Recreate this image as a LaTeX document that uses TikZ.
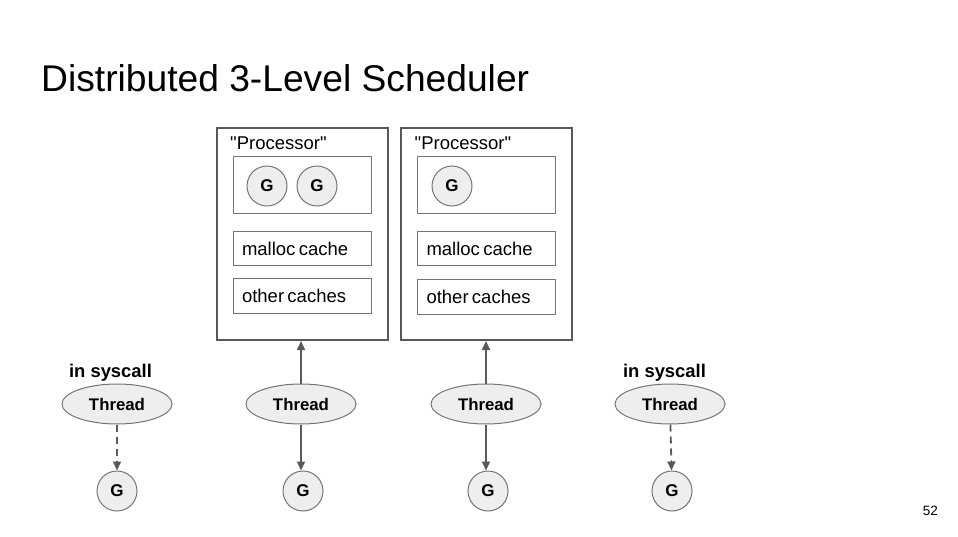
\documentclass[tikz,border=0pt]{standalone}
\usepackage{fontspec}
\setmainfont{Liberation Sans}
\usetikzlibrary{arrows.meta,shapes.geometric}
\definecolor{linegray}{HTML}{595959}
\definecolor{boxgray}{HTML}{757575}
\definecolor{fillgray}{HTML}{EEEEEE}
\newcommand{\fs}[1]{\fontsize{#1}{#1}\selectfont}
\begin{document}
\begin{tikzpicture}[x=1pt,y=-1pt,>={Triangle[width=8pt,length=9pt]}]
        \useasboundingbox (0,0) rectangle (958,537);
        \node[anchor=west,inner sep=0] (title) at (41,78) {\fs{37.2}Distributed 3-Level Scheduler};
        \node[anchor=east,inner sep=0] (page) at (938,511) {\fs{13.5}52};
        % processors
        \begin{scope}[every node/.style={draw=linegray,line width=2pt,minimum width=171pt,minimum height=212pt,inner sep=0}]
            \node (P1) at (302,234) {};
            \node (P2) at (486.5,234) {};
        \end{scope}
        \begin{scope}[every node/.style={anchor=west,inner sep=0}]
            \node (p1) at (230,143) {\fs{18.5}\textquotedbl Processor\textquotedbl};
            \node (p2) at (414.5,143) {\fs{18.5}\textquotedbl Processor\textquotedbl};
        \end{scope}
        \begin{scope}[every node/.style={draw=boxgray,line width=1pt,minimum height=34pt,text width=120pt,inner xsep=9pt,inner ysep=0,align=left}]
            \node (Q1) at (302.5,185.5) [minimum height=57pt] {};
            \node (Q2) at (486.5,185.5) [minimum height=57pt] {};
            \node (M1) at (302,249) {\fs{18.5}malloc cache};
            \node (M2) at (486.5,249) {\fs{18.5}malloc cache};
            \node (O1) at (302,296) {\fs{18.5}other caches};
            \node (O2) at (486.5,297) {\fs{18.5}other caches};
        \end{scope}
        % goroutines
        \begin{scope}[every node/.style={draw=boxgray,line width=1pt,fill=fillgray,circle,minimum size=40pt,inner sep=0,font=\bfseries\fs{17}}]
            \node (G11) at (267,186) {G};
            \node (G12) at (317,186) {G};
            \node (G21) at (452,186) {G};
            \node (g1) at (117,491) {G};
            \node (g2) at (303,491) {G};
            \node (g3) at (488,491) {G};
            \node (g4) at (672,491) {G};
        \end{scope}
        % threads
        \begin{scope}[every node/.style={draw=boxgray,line width=1pt,fill=fillgray,ellipse,minimum width=110pt,minimum height=40pt,inner sep=0,font=\bfseries\fs{16.8}}]
            \node (T1) at (117,404) {Thread};
            \node (T2) at (301,404) {Thread};
            \node (T3) at (486,404) {Thread};
            \node (T4) at (670,404) {Thread};
        \end{scope}
        \begin{scope}[every node/.style={inner sep=0,font=\bfseries\fs{18.4}}]
            \node (s1) at (110.5,373) {in syscall};
            \node (s4) at (664.5,373) {in syscall};
        \end{scope}
        \begin{scope}[every edge/.style={draw=linegray,line width=1.8pt}]
            \path [->] (T2) edge (T2 |- P1.south);
            \path [->] (T3) edge (T3 |- P2.south);
            \path [->] (T2.south) edge (g2.north -| T2.south);
            \path [->] (T3.south) edge (g3.north -| T3.south);
        \end{scope}
        \begin{scope}[every edge/.style={draw=linegray,line width=1.8pt,dash pattern=on 7pt off 5pt}]
            \path [->] (T1) edge (g1);
            \path [->] (T4) edge (g4);
        \end{scope}
    \end{tikzpicture}
\end{document}
